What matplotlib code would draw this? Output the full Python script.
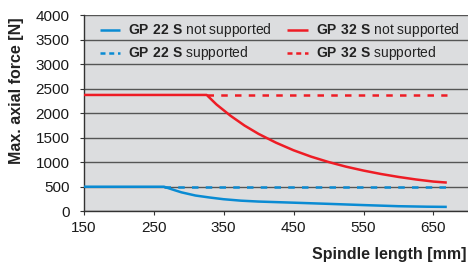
import matplotlib
matplotlib.use("Agg")
import matplotlib.pyplot as plt

plt.rcParams['font.family'] = ['Liberation Sans', 'DejaVu Sans']
plt.rcParams['mathtext.fontset'] = 'custom'
plt.rcParams['mathtext.rm'] = 'Liberation Sans'
plt.rcParams['mathtext.bf'] = 'Liberation Sans:bold'

# ---- data ----
gp22_ns_x = [150, 265, 280, 290, 310, 330, 350, 375, 400, 450, 500, 550, 600, 640, 669]
gp22_ns_y = [500, 500, 430, 385, 320, 280, 245, 215, 197, 174, 150, 125, 102, 92, 88]
gp22_s_x = [265, 669]
gp22_s_y = [500, 500]

gp32_ns_x = [150, 326, 340, 360, 380, 400, 425, 450, 475, 500, 525, 550, 575, 600, 625, 650, 669]
gp32_ns_y = [2375, 2375, 2180, 1950, 1750, 1580, 1400, 1245, 1115, 1005, 910, 830, 760, 700, 648, 605, 585]
gp32_s_x = [326, 669]
gp32_s_y = [2375, 2375]

x_ticks = [150, 250, 350, 450, 550, 650]
y_ticks = [0, 500, 1000, 1500, 2000, 2500, 3000, 3500, 4000]

legend_labels = [r"$\mathbf{GP\ 22\ S}$ not supported", r"$\mathbf{GP\ 22\ S}$ supported",
                 r"$\mathbf{GP\ 32\ S}$ not supported", r"$\mathbf{GP\ 32\ S}$ supported"]

BLUE = '#0a8bd3'
RED = '#ee1c25'

fig = plt.figure(figsize=(4.68, 2.62), dpi=100)
W, H = 468, 262
ax_l, ax_r, ax_t, ax_b = 83.5, 468.5, 15.4, 211.2
ax = fig.add_axes([ax_l / W, 1 - ax_b / H, (ax_r - ax_l) / W, (ax_b - ax_t) / H])
ax.set_facecolor('#dcdddf')
ax.set_xlim(150, 700)
ax.set_ylim(0, 4000)
ax.set_xticks(x_ticks)
ax.set_yticks(y_ticks)
ax.tick_params(axis='both', labelsize=11, length=3, width=0.8, color='#333333',
               labelcolor='#1a1a1a')
ax.tick_params(axis='y', pad=7)
ax.tick_params(axis='x', pad=4)
for s in ['top', 'right']:
    ax.spines[s].set_visible(False)
for s in ['left', 'bottom']:
    ax.spines[s].set_color('#333333')
    ax.spines[s].set_linewidth(1.0)
ax.yaxis.grid(True, color='#555555', linewidth=1.0)
ax.set_axisbelow(True)

lw = 1.8
ax.plot(gp22_ns_x, gp22_ns_y, color=BLUE, lw=lw, solid_capstyle='butt', zorder=3)
ax.plot(gp22_s_x, gp22_s_y, color=BLUE, lw=lw, linestyle=(0, (2.6, 2.9)), zorder=3)
ax.plot(gp32_ns_x, gp32_ns_y, color=RED, lw=lw, solid_capstyle='butt', zorder=3)
ax.plot(gp32_s_x, gp32_s_y, color=RED, lw=lw, linestyle=(0, (2.6, 2.9)), zorder=3)

# legend (manual, no frame)
rows = [0.925, 0.806]
cols = [(0.043, 0.094, 0.116), (0.529, 0.583, 0.604)]
styles = [(BLUE, '-'), (BLUE, (0, (2.0, 1.5))), (RED, '-'), (RED, (0, (2.0, 1.5)))]
for i, lab in enumerate(legend_labels):
    c = cols[i // 2]
    r = rows[i % 2]
    color, ls = styles[i]
    ax.plot([c[0], c[1]], [r, r], transform=ax.transAxes, color=color, lw=lw,
            linestyle=ls, solid_capstyle='butt', zorder=4)
    ax.text(c[2], r, lab, transform=ax.transAxes, fontsize=10, va='center',
            ha='left', color='#222222', zorder=4)

fig.text(17 / W, 1 - 91 / H, 'Max. axial force [N]', rotation=90, ha='center',
         va='center', fontsize=11.5, fontweight='bold', color='#222222')
fig.text(466 / W, 1 - 258.5 / H, 'Spindle length [mm]', ha='right', va='baseline',
         fontsize=11.5, fontweight='bold', color='#222222')

fig.savefig('out.png', dpi=100)
